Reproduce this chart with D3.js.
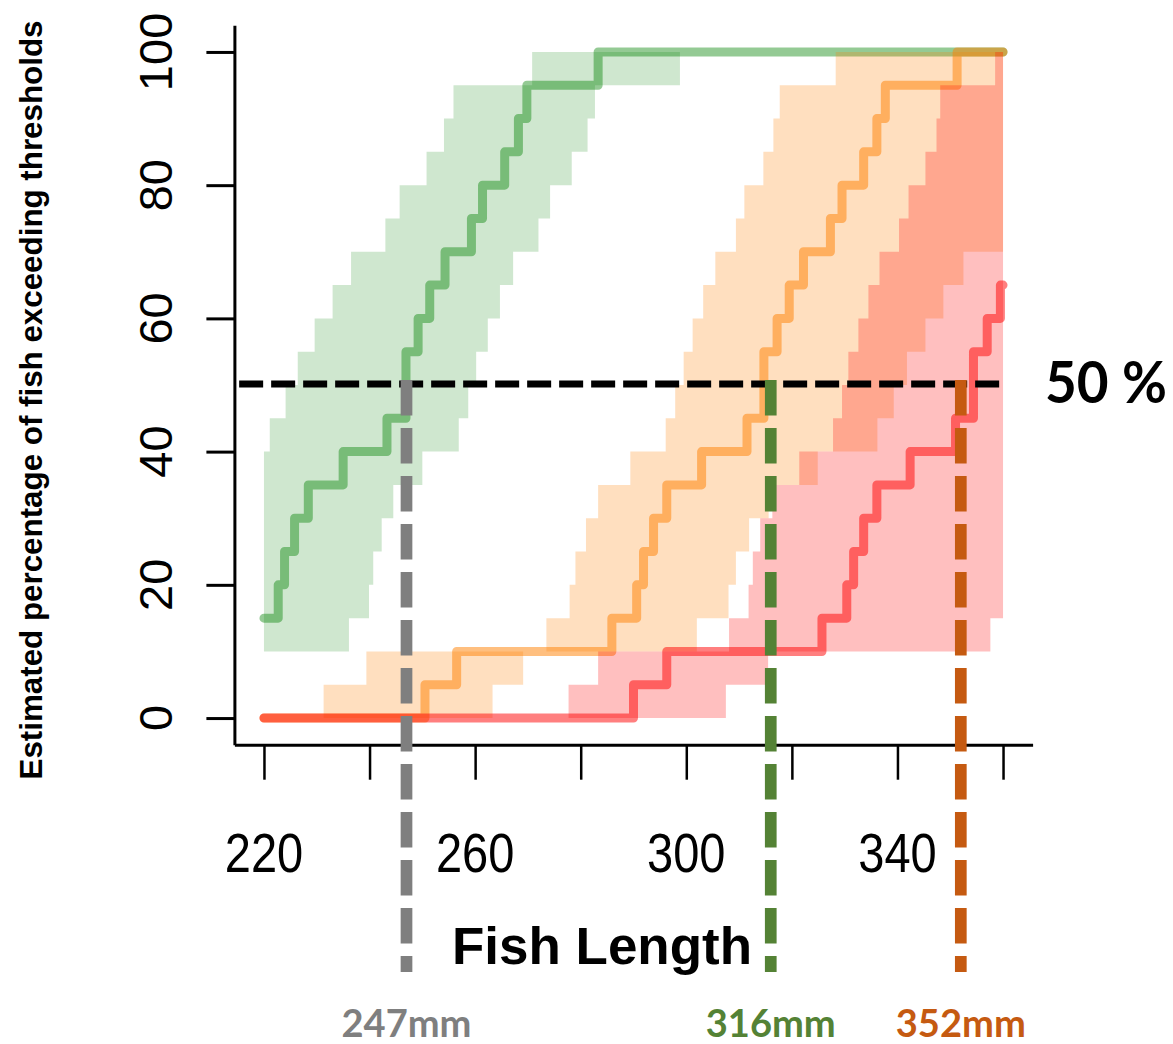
<!DOCTYPE html>
<html>
<head>
<meta charset="utf-8">
<script src="https://cdn.jsdelivr.net/npm/d3@7"></script>
<style>
  html, body { margin: 0; padding: 0; background: #ffffff; }
  svg { display: block; }
</style>
</head>
<body>
<svg id="chart" width="1173" height="1044"></svg>
<script>
// Estimated % of fish exceeding each threshold, as step functions of length.
// Each entry: [fish length (mm), percentage from that length onward]
const greenStep = [[220,15],[222.7,20],[223.9,25],[225.8,30],[228.4,35],[235.0,40],[243.3,45],
  [246.9,55],[249.2,60],[251.4,65],[254.3,70],[259.3,75],[261.4,80],[265.6,85],[268.2,90],
  [269.8,95],[283.3,100],[360,100]];
const orangeStep = [[220,0],[250.5,5],[256.5,10],[285.9,15],[290.6,20],[291.9,25],[293.8,30],
  [296.3,35],[302.9,40],[311.5,45],[314.7,55],[317.2,60],[319.5,65],[322.2,70],[327.3,75],
  [329.5,80],[333.6,85],[336.1,90],[337.7,95],[351.3,100],[360,100]];
const redStep = [[220,0],[290.0,5],[296.3,10],[325.7,15],[330.4,20],[331.7,25],[333.6,30],
  [336.1,35],[342.4,40],[351.0,45],[354.4,55],[357.0,60],[359.5,65],[360,65]];

// Upper and lower confidence bounds (step functions, same layout)
const greenUpper = [[220,40],[221.1,45],[224.1,50],[226.4,55],[229.6,60],[233.0,65],[236.5,70],
  [243.0,75],[245.7,80],[250.8,85],[254.1,90],[255.9,95],[270.8,100]];
const greenLower = [[220,10],[236.1,15],[239.9,20],[240.7,25],[242.3,30],[244.5,35],[250.0,40],
  [256.9,45],[258.7,50],[260.2,55],[262.4,60],[264.7,65],[267.2,70],[272.0,75],[274.2,80],
  [278.3,85],[281.3,90],[282.7,95],[298.8,100]];
const orangeUpper = [[220,0],[231.3,5],[239.4,10],[273.5,15],[277.9,20],[279.0,25],[281.0,30],
  [283.3,35],[289.4,40],[296.1,45],[297.9,50],[299.5,55],[301.2,60],[303.2,65],[305.5,70],
  [309.4,75],[311.0,80],[314.6,85],[316.5,90],[317.7,95],[328.3,100]];
const orangeLower = [[220,0],[263.3,5],[269.1,10],[302.0,15],[308.0,20],[309.4,25],[311.9,30],
  [315.6,35],[324.9,40],[336.2,45],[339.3,50],[341.8,55],[345.3,60],[348.7,65],[352.5,70]];
const redUpper = [[220,0],[277.7,5],[283.3,10],[308.1,15],[311.8,20],[312.6,25],[314.0,30],
  [316.3,35],[321.4,40],[327.8,45],[329.5,50],[330.7,55],[332.6,60],[334.5,65],[336.6,70],
  [340.3,75],[342.1,80],[345.3,85],[347.4,90],[348.1,95],[358.5,100]];
const redLower = [[220,0],[307.5,5],[315.5,10],[357.6,15]];

// Axis ticks and labels
const xTicks = [220, 240, 260, 280, 300, 320, 340, 360];
const xTickLabels = [220, 260, 300, 340];
const yTicks = [0, 20, 40, 60, 80, 100];

// 50 % reference line and the lengths where each curve reaches it
const halfLevel = 50;
const halfLineSpan = [215.3, 359.3];
const crossLengths = [247, 316, 352];
const crossLabels = ["247mm", "316mm", "352mm"];
const crossColors = ["#7f7f7f", "#548235", "#c55a11"];

const svg = d3.select("#chart");

const x = d3.scaleLinear().domain([214.4, 365.6]).range([234.4, 1032.6]);
const y = d3.scaleLinear().domain([-4, 104]).range([744.7, 25.3]);

// Outline of a band between two step functions
function bandPoints(upper, lower, end) {
  const top = [];
  upper.forEach((d, i) => {
    const nx = i + 1 < upper.length ? upper[i + 1][0] : end;
    top.push([d[0], d[1]], [nx, d[1]]);
  });
  const bottom = [];
  lower.forEach((d, i) => {
    const nx = i + 1 < lower.length ? lower[i + 1][0] : end;
    bottom.push([d[0], d[1]], [nx, d[1]]);
  });
  return top.concat(bottom.reverse());
}

const poly = d3.line().x(d => x(d[0])).y(d => y(d[1]));
const step = d3.line().x(d => x(d[0])).y(d => y(d[1])).curve(d3.curveStepAfter);

const layers = [
  { up: greenUpper, lo: greenLower, line: greenStep, band: "rgba(0,128,0,0.19)", stroke: "rgba(0,128,0,0.42)" },
  { up: orangeUpper, lo: orangeLower, line: orangeStep, band: "rgba(255,127,0,0.25)", stroke: "rgba(255,127,0,0.5)" },
  { up: redUpper, lo: redLower, line: redStep, band: "rgba(255,0,0,0.25)", stroke: "rgba(255,0,0,0.5)" }
];

const plot = svg.append("g");
layers.forEach(L => {
  plot.append("path")
    .attr("d", poly(bandPoints(L.up, L.lo, 360)) + "Z")
    .attr("fill", L.band)
    .attr("stroke", "none");
  plot.append("path")
    .attr("d", step(L.line))
    .attr("fill", "none")
    .attr("stroke", L.stroke)
    .attr("stroke-width", 9)
    .attr("stroke-linecap", "round")
    .attr("stroke-linejoin", "round");
});

// Axes
const yAxis = svg.append("g")
  .attr("transform", `translate(${x.range()[0]},0)`)
  .call(d3.axisLeft(y).tickValues(yTicks).tickSize(28).tickSizeOuter(0).tickFormat(""));
yAxis.select(".domain").attr("stroke", "#000").attr("stroke-width", 3);
yAxis.selectAll(".tick line").attr("stroke", "#000").attr("stroke-width", 3);

const xAxis = svg.append("g")
  .attr("transform", `translate(0,${y.range()[0]})`)
  .call(d3.axisBottom(x).tickValues(xTicks).tickSize(35).tickSizeOuter(0).tickFormat(""));
xAxis.select(".domain").attr("stroke", "#000").attr("stroke-width", 3);
xAxis.selectAll(".tick line").attr("stroke", "#000").attr("stroke-width", 2.5);

const tickFont = "'Liberation Sans', Arial, sans-serif";

svg.append("g").selectAll("text")
  .data(yTicks)
  .join("text")
  .attr("transform", d => `translate(172,${y(d)}) rotate(-90)`)
  .attr("text-anchor", "middle")
  .attr("font-family", tickFont)
  .attr("font-size", 47)
  .attr("fill", "#000")
  .text(d => d);

svg.append("g").selectAll("text")
  .data(xTickLabels)
  .join("text")
  .attr("transform", d => `translate(${x(d)},872) scale(1,1.19)`)
  .attr("text-anchor", "middle")
  .attr("font-family", tickFont)
  .attr("font-size", 47)
  .attr("fill", "#000")
  .text(d => d);

// Axis titles
svg.append("text")
  .attr("transform", "translate(42,400) rotate(-90)")
  .attr("text-anchor", "middle")
  .attr("font-family", tickFont)
  .attr("font-weight", "bold")
  .attr("font-size", 31)
  .attr("textLength", 759)
  .attr("lengthAdjust", "spacingAndGlyphs")
  .text("Estimated percentage of fish exceeding thresholds");

svg.append("text")
  .attr("x", 602)
  .attr("y", 964)
  .attr("text-anchor", "middle")
  .attr("font-family", tickFont)
  .attr("font-weight", "bold")
  .attr("font-size", 51)
  .attr("textLength", 300)
  .attr("lengthAdjust", "spacingAndGlyphs")
  .text("Fish Length");

// 50 % threshold line
svg.append("line")
  .attr("x1", x(halfLineSpan[0]))
  .attr("x2", x(halfLineSpan[1]))
  .attr("y1", y(halfLevel) - 1)
  .attr("y2", y(halfLevel) - 1)
  .attr("stroke", "#000")
  .attr("stroke-width", 7)
  .attr("stroke-dasharray", "24 8");

svg.append("text")
  .attr("x", 1045)
  .attr("y", 403)
  .attr("font-family", "Lato, 'Open Sans', sans-serif")
  .attr("font-weight", "bold")
  .attr("font-size", 58)
  .attr("textLength", 122)
  .attr("lengthAdjust", "spacingAndGlyphs")
  .attr("fill", "#000")
  .text("50 %");

// Lengths at which each curve crosses 50 %
const cross = svg.append("g");
crossLengths.forEach((v, i) => {
  cross.append("line")
    .attr("x1", x(v)).attr("x2", x(v))
    .attr("y1", y(halfLevel) - 5)
    .attr("y2", 972)
    .attr("stroke", crossColors[i])
    .attr("stroke-width", 11.7)
    .attr("stroke-dasharray", "35.5 12.5");
  cross.append("text")
    .attr("x", x(v))
    .attr("y", 1037)
    .attr("text-anchor", "middle")
    .attr("font-family", "Lato, 'Open Sans', sans-serif")
    .attr("font-weight", "bold")
    .attr("font-size", 38)
    .attr("textLength", 130)
    .attr("lengthAdjust", "spacingAndGlyphs")
    .attr("fill", crossColors[i])
    .text(crossLabels[i]);
});
</script>
</body>
</html>
